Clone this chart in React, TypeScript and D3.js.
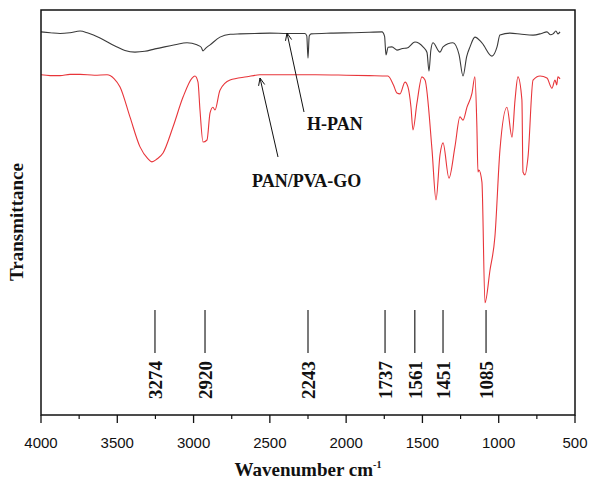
import React from "react";
import * as d3 from "d3";

// H-PAN spectrum: [wavenumber, transmittance (a.u.)]
const hpanWave = [4000, 3940, 3875, 3810, 3744, 3692, 3613, 3515, 3450, 3384, 3320, 3253, 3190, 3122, 3043, 2978, 2950, 2938, 2920, 2892, 2827, 2760, 2696, 2600, 2500, 2388, 2270, 2258, 2250, 2242, 2230, 2100, 1950, 1850, 1765, 1748, 1739, 1725, 1700, 1667, 1630, 1601, 1549, 1496, 1470, 1457, 1445, 1431, 1385, 1365, 1300, 1260, 1234, 1210, 1188, 1156, 1110, 1044, 1011, 992, 926, 850, 775, 720, 684, 660, 644, 625, 612, 598];
const hpanVal = [94.6, 94.4, 94.2, 94.4, 94.8, 94.3, 93.1, 91.1, 90.0, 89.6, 89.8, 90.4, 90.9, 91.4, 91.9, 91.4, 90.8, 89.9, 90.6, 91.4, 93.3, 94.0, 94.1, 94.2, 94.3, 94.2, 94.2, 93.6, 88.1, 93.6, 94.1, 94.3, 94.4, 94.5, 94.6, 93.5, 88.9, 90.8, 90.9, 90.1, 90.5, 90.6, 92.1, 90.9, 89.5, 84.9, 90.0, 91.9, 89.6, 90.9, 91.9, 89.0, 83.7, 88.5, 90.9, 93.3, 91.9, 88.6, 90.9, 93.8, 94.3, 94.0, 93.8, 94.2, 94.6, 93.9, 94.1, 94.8, 94.1, 94.6];

// PAN/PVA-GO spectrum
const goWave = [4000, 3940, 3875, 3810, 3744, 3650, 3567, 3520, 3482, 3417, 3351, 3300, 3273, 3240, 3200, 3135, 3069, 3010, 2991, 2971, 2958, 2938, 2912, 2892, 2873, 2860, 2827, 2761, 2650, 2565, 2400, 2200, 2000, 1850, 1726, 1690, 1667, 1647, 1614, 1595, 1575, 1562, 1536, 1503, 1483, 1437, 1411, 1385, 1365, 1326, 1287, 1254, 1234, 1208, 1175, 1156, 1143, 1136, 1130, 1110, 1090, 1057, 1025, 992, 946, 913, 893, 874, 848, 841, 828, 808, 775, 729, 684, 651, 631, 620, 612, 598];
const goVal = [84.0, 83.8, 83.8, 84.1, 84.1, 83.9, 84.0, 83.0, 81.0, 73.6, 66.2, 63.3, 62.5, 63.2, 64.7, 71.1, 78.5, 83.2, 83.7, 82.2, 75.3, 67.4, 67.9, 74.6, 76.0, 75.3, 80.2, 82.7, 83.5, 84.0, 84.0, 84.0, 83.9, 83.8, 83.7, 81.5, 79.5, 79.3, 82.2, 81.0, 76.0, 70.4, 77.0, 83.5, 82.7, 65.4, 53.1, 64.2, 67.2, 58.5, 66.2, 73.6, 72.8, 76.0, 79.5, 83.5, 71.1, 60.0, 60.5, 57.5, 27.7, 35.8, 44.0, 65.4, 76.0, 68.6, 77.8, 83.5, 77.8, 60.0, 59.3, 63.7, 82.7, 83.7, 83.2, 80.7, 82.7, 81.5, 83.5, 83.0];

// Peak markers: drawn position and label text
const markerPos = [3253, 2925, 2250, 1745, 1550, 1365, 1083];
const markerLabels = ["3274", "2920", "2243", "1737", "1561", "1451", "1085"];

const xTicks = [4000, 3500, 3000, 2500, 2000, 1500, 1000, 500];
const xMinorTicks = [3750, 3250, 2750, 2250, 1750, 1250, 750];

const L = 41, R = 575, T = 10, B = 415;

export default function App() {
  const x = d3.scaleLinear().domain([4000, 500]).range([L, R]);
  const y = d3.scaleLinear().domain([0, 100]).range([B, T]);
  const line = d3
    .line<[number, number]>()
    .x((d) => x(d[0]))
    .y((d) => y(d[1]))
    .curve(d3.curveMonotoneX);
  const hpan = hpanWave.map((w, i) => [w, hpanVal[i]] as [number, number]);
  const go = goWave.map((w, i) => [w, goVal[i]] as [number, number]);
  const serif = "'Times New Roman', 'Liberation Serif', serif";
  const sans = "Arial, 'Liberation Sans', sans-serif";

  const arrow = (x1: number, y1: number, x2: number, y2: number) => {
    const a = Math.atan2(y2 - y1, x2 - x1);
    const len = 8, sp = 0.4;
    const p1 = [x2 - len * Math.cos(a - sp), y2 - len * Math.sin(a - sp)];
    const p2 = [x2 - len * Math.cos(a + sp), y2 - len * Math.sin(a + sp)];
    return (
      <g stroke="#111" strokeWidth={1} fill="none">
        <line x1={x1} y1={y1} x2={x2} y2={y2} />
        <polyline points={`${p1[0]},${p1[1]} ${x2},${y2} ${p2[0]},${p2[1]}`} />
      </g>
    );
  };

  return (
    <svg
      width={590}
      height={479}
      style={{ position: "absolute", left: 0, top: 0, background: "#fff" }}
    >
      <rect x={0} y={0} width={590} height={479} fill="#fff" />
      <path d={line(hpan) || ""} fill="none" stroke="#3a3a3a" strokeWidth={1.1} />
      <path d={line(go) || ""} fill="none" stroke="#e8353a" strokeWidth={1.1} />

      {markerPos.map((w, i) => (
        <g key={i}>
          <line x1={x(w)} x2={x(w)} y1={310} y2={353} stroke="#333" strokeWidth={1.3} />
          <text
            transform={`translate(${x(w) + 7},361) rotate(-90)`}
            textAnchor="end"
            fontFamily={serif}
            fontWeight="bold"
            fontSize={19}
            fill="#111"
          >
            {markerLabels[i]}
          </text>
        </g>
      ))}

      {arrow(304, 112, 287, 33)}
      {arrow(278, 157, 260, 78)}
      <text x={307} y={130} fontFamily={serif} fontWeight="bold" fontSize={18} fill="#111">
        H-PAN
      </text>
      <text x={252} y={187} fontFamily={serif} fontWeight="bold" fontSize={18} fill="#111">
        PAN/PVA-GO
      </text>

      <rect x={L} y={T} width={R - L} height={B - T} fill="none" stroke="#111" strokeWidth={1.5} />
      {xTicks.map((t) => (
        <g key={t}>
          <line x1={x(t)} x2={x(t)} y1={B} y2={B + 8} stroke="#111" strokeWidth={1.3} />
          <text x={x(t)} y={448} textAnchor="middle" fontFamily={sans} fontSize={15} fill="#111">
            {t}
          </text>
        </g>
      ))}
      {xMinorTicks.map((t) => (
        <line key={t} x1={x(t)} x2={x(t)} y1={B} y2={B + 4} stroke="#111" strokeWidth={1.2} />
      ))}
      <text x={308} y={476} textAnchor="middle" fontFamily={serif} fontWeight="bold" fontSize={19} fill="#111">
        Wavenumber cm
        <tspan dy={-8} fontSize={10}>-1</tspan>
      </text>
      <text
        transform={`translate(23,222) rotate(-90)`}
        textAnchor="middle"
        fontFamily={serif}
        fontWeight="bold"
        fontSize={19}
        fill="#111"
      >
        Transmittance
      </text>
    </svg>
  );
}
